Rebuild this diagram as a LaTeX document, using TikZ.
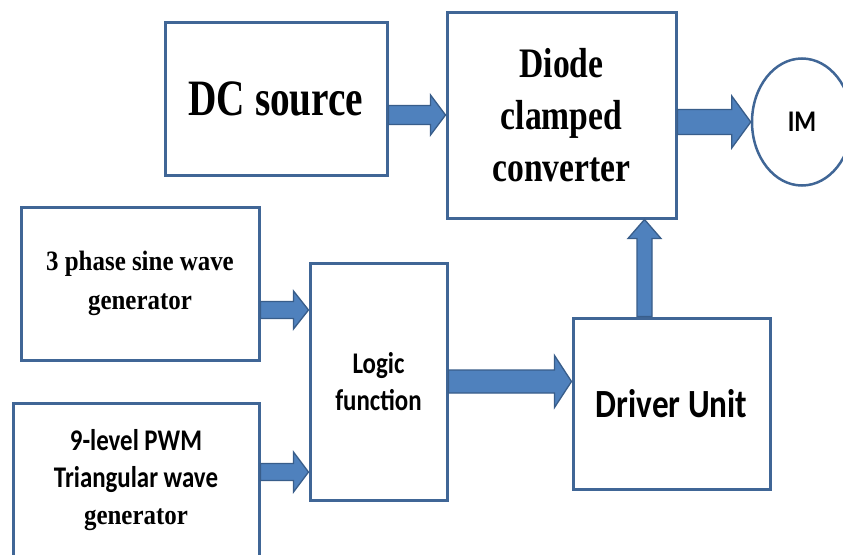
\documentclass[tikz,border=0pt]{standalone}
\usepackage{fontspec}
\usepackage{graphicx}
\usetikzlibrary{calc,shapes.geometric}
\newfontfamily\serfont{Liberation Serif}
\newfontfamily\calfont{Carlito}
\newcommand\hs[2]{\scalebox{#1}[1]{#2}}
\definecolor{boxblue}{RGB}{64,102,150}
\definecolor{arrfill}{RGB}{79,129,189}
\definecolor{arrline}{RGB}{56,93,138}
\tikzset{
  blk/.style={draw=boxblue, line width=3pt, inner sep=0pt, rectangle, align=center},
  fat/.style={fill=arrfill, draw=arrline, line width=1.3pt, line join=miter}
}
% #1 start, #2 end, #3 shaft half width, #4 head half width, #5 head length, #6 name
\newcommand\fatarrow[6]{%
  \coordinate (#6h) at ($(#2)!#5!(#1)$);
  \draw[fat] ($(#1)!#3!90:(#2)$) -- ($(#6h)!#3!90:(#2)$) -- ($(#6h)!#4!90:(#2)$)
    -- (#2) -- ($(#6h)!#4!-90:(#2)$) -- ($(#6h)!#3!-90:(#2)$) -- ($(#1)!#3!-90:(#2)$) -- cycle;}
\begin{document}
\begin{tikzpicture}[x=1pt, y=-1pt]
\useasboundingbox (0,0) rectangle (843,554);
\clip (0,0) rectangle (843,554);
\fill[white] (0,0) rectangle (843,554);

\node[blk, minimum width=222pt, minimum height=153pt,
  font=\serfont\bfseries\fontsize{51}{60}\selectfont] (dc) at (276,98.5) {\hs{0.77}{DC source}};
\node[blk, minimum width=229pt, minimum height=206pt,
  font=\serfont\bfseries\fontsize{42}{52}\selectfont] (diode) at (561.5,115)
  {\hs{0.8}{Diode}\\ \hs{0.8}{clamped}\\ \hs{0.8}{converter}};
\node[draw=boxblue, line width=2.5pt, ellipse, inner sep=0pt, minimum width=100pt, minimum height=127pt,
  font=\calfont\bfseries\fontsize{30}{36}\selectfont] (im) at (802,122) {\hs{0.83}{IM}};
\node[blk, minimum width=238pt, minimum height=153pt,
  font=\serfont\bfseries\fontsize{28}{39}\selectfont] (phase) at (140,283.5)
  {\hs{0.89}{3 phase sine wave}\\ \hs{0.89}{generator}};
\node[blk, minimum width=246pt, minimum height=154pt,
  font=\calfont\bfseries\fontsize{30}{37}\selectfont] (pwm) at (136,480)
  {\hs{0.83}{9-level PWM}\\ \hs{0.83}{Triangular wave}\\ {\serfont\fontsize{28}{35}\selectfont\hs{0.89}{generator}}};
\node[blk, minimum width=137pt, minimum height=237pt,
  font=\calfont\bfseries\fontsize{30}{37}\selectfont] (logic) at (378.5,381.5)
  {\hs{0.83}{Logic}\\ \hs{0.83}{function}};
\node[blk, minimum width=197pt, minimum height=171pt,
  font=\calfont\bfseries\fontsize{40}{48}\selectfont] (driver) at (671.5,403.5)
  {\hs{0.83}{Driver Unit}};

\coordinate (a1s) at (dc.east |- diode.west);
\coordinate (a2s) at (diode.east |- im.west);
\coordinate (a3s) at ($(driver.north west)+(73,0)$);
\coordinate (a3e) at (a3s |- diode.south);
\coordinate (a4s) at ($(phase.east)+(0,26.5)$);
\coordinate (a4e) at (a4s -| logic.west);
\coordinate (a5s) at ($(pwm.east)+(0,-8)$);
\coordinate (a5e) at (a5s -| logic.west);
\coordinate (a6e) at (logic.east -| driver.west);

\fatarrow{a1s}{diode.west}{9.5pt}{20pt}{15pt}{ar1}
\fatarrow{a2s}{im.west}{12.5pt}{26pt}{19pt}{ar2}
\fatarrow{a3s}{a3e}{7.5pt}{16.5pt}{19pt}{ar3}
\fatarrow{a4s}{a4e}{8.5pt}{19pt}{15pt}{ar4}
\fatarrow{a5s}{a5e}{8.5pt}{20pt}{15pt}{ar5}
\fatarrow{logic.east}{a6e}{11.5pt}{26pt}{17pt}{ar6}
\end{tikzpicture}
\end{document}
